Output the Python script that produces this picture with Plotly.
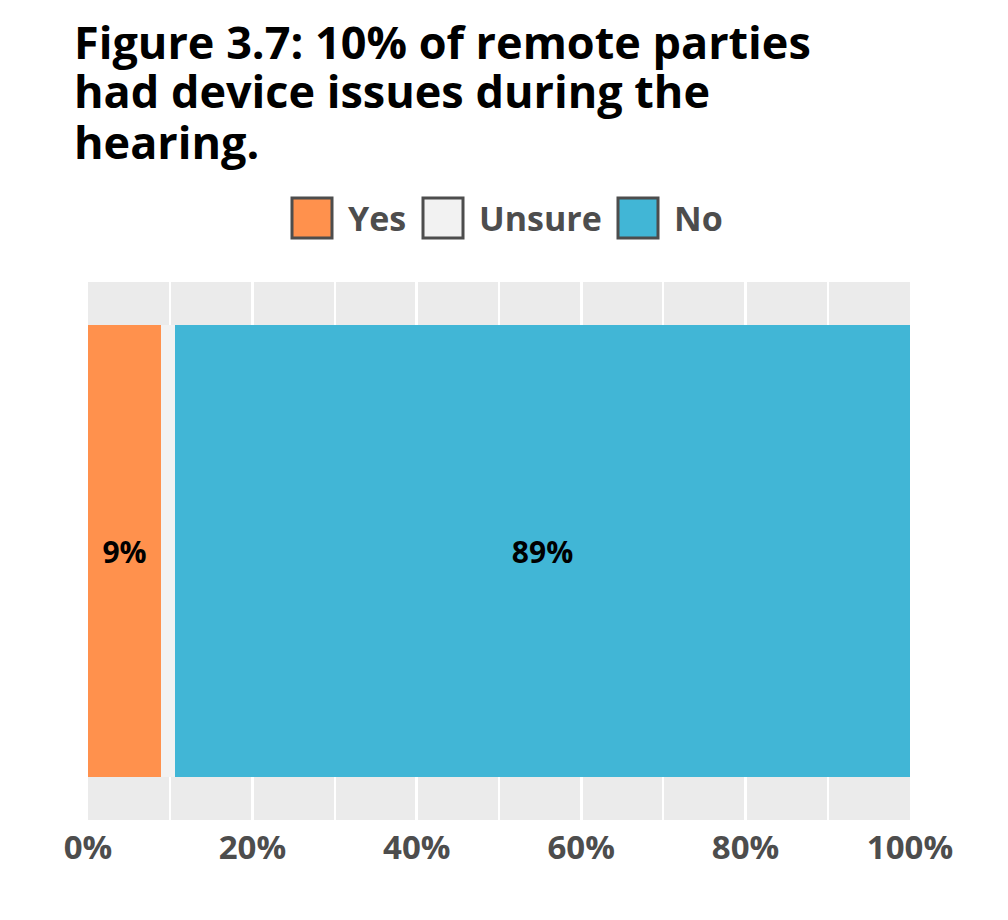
import plotly.graph_objects as go

# survey answers, share of remote parties (%)
categories = ["Yes", "Unsure", "No"]
shares = [8.9, 1.7, 89.4]
bar_labels = ["9%", "", "89%"]
colors = ["#FF914D", "#F2F2F2", "#41B6D6"]
row_label = ["Device issues"]

tick_values = [0, 20, 40, 60, 80, 100]
tick_labels = ["0%", "20%", "40%", "60%", "80%", "100%"]

title_lines = [
    "Figure 3.7: 10% of remote parties",
    "had device issues during the",
    "hearing.",
]

W, H = 1008, 920
# page is drawn 8px in from the window corner, so positions below are figure px
M_L, M_R, M_T, M_B = 80, 106, 274, 108
FONT = "Open Sans"
GREY = "#4d4d4d"


def px_to_paper(x, y):
    return (x - M_L) / (W - M_L - M_R), (H - M_B - y) / (H - M_T - M_B)


fig = go.Figure()
for cat, val, lab, col in zip(categories, shares, bar_labels, colors):
    fig.add_trace(go.Bar(
        y=row_label, x=[val], name=cat, orientation="h",
        marker=dict(color=col, line=dict(width=0)),
        width=0.9,
        text=[lab], textposition="inside", insidetextanchor="middle",
        textangle=0,
        textfont=dict(family=FONT, size=30, color="black", weight=700),
        showlegend=False,
    ))

# title as separate lines (tighter line spacing than plotly's title)
title_centers = [34, 83, 133]
for line, cy in zip(title_lines, title_centers):
    tx, ty = px_to_paper(64, cy)
    fig.add_annotation(xref="paper", yref="paper", x=tx, y=ty,
                       xanchor="left", yanchor="middle", showarrow=False,
                       text=line,
                       font=dict(family=FONT, size=45, color="black", weight=700))

# hand-built legend (plotly caps legend symbol size)
legend_x = [284, 415, 610]
sq = 40
legend_cy = 210
for cat, col, lx in zip(categories, colors, legend_x):
    x0, y0 = px_to_paper(lx, legend_cy - sq / 2)
    x1, y1 = px_to_paper(lx + sq, legend_cy + sq / 2)
    fig.add_shape(type="rect", xref="paper", yref="paper",
                  x0=x0, x1=x1, y0=y1, y1=y0,
                  fillcolor=col, line=dict(color=GREY, width=3))
    tx, ty = px_to_paper(lx + sq + 14, legend_cy)
    fig.add_annotation(xref="paper", yref="paper", x=tx, y=ty,
                       xanchor="left", yanchor="middle", showarrow=False,
                       text=cat,
                       font=dict(family=FONT, size=34, color=GREY, weight=700))

fig.update_layout(
    width=W, height=H,
    barmode="stack",
    bargap=0,
    paper_bgcolor="white",
    plot_bgcolor="#EBEBEB",
    margin=dict(l=M_L, r=M_R, t=M_T, b=M_B, autoexpand=False),
    uniformtext=dict(mode=False),
)

fig.update_xaxes(
    range=[0, 100],
    tickvals=tick_values, ticktext=tick_labels,
    showgrid=True, gridcolor="white", gridwidth=2.5,
    minor=dict(dtick=10, tick0=0, showgrid=True, gridcolor="white", gridwidth=2),
    zeroline=False, showline=False, ticks="",
    tickfont=dict(family=FONT, size=33, color=GREY, weight=700),
    ticklabelstandoff=5,
    fixedrange=True,
)
fig.update_yaxes(
    range=[-0.535, 0.535],
    showticklabels=False, showgrid=False, zeroline=False, ticks="",
    fixedrange=True,
)

fig.write_html("out.html")
